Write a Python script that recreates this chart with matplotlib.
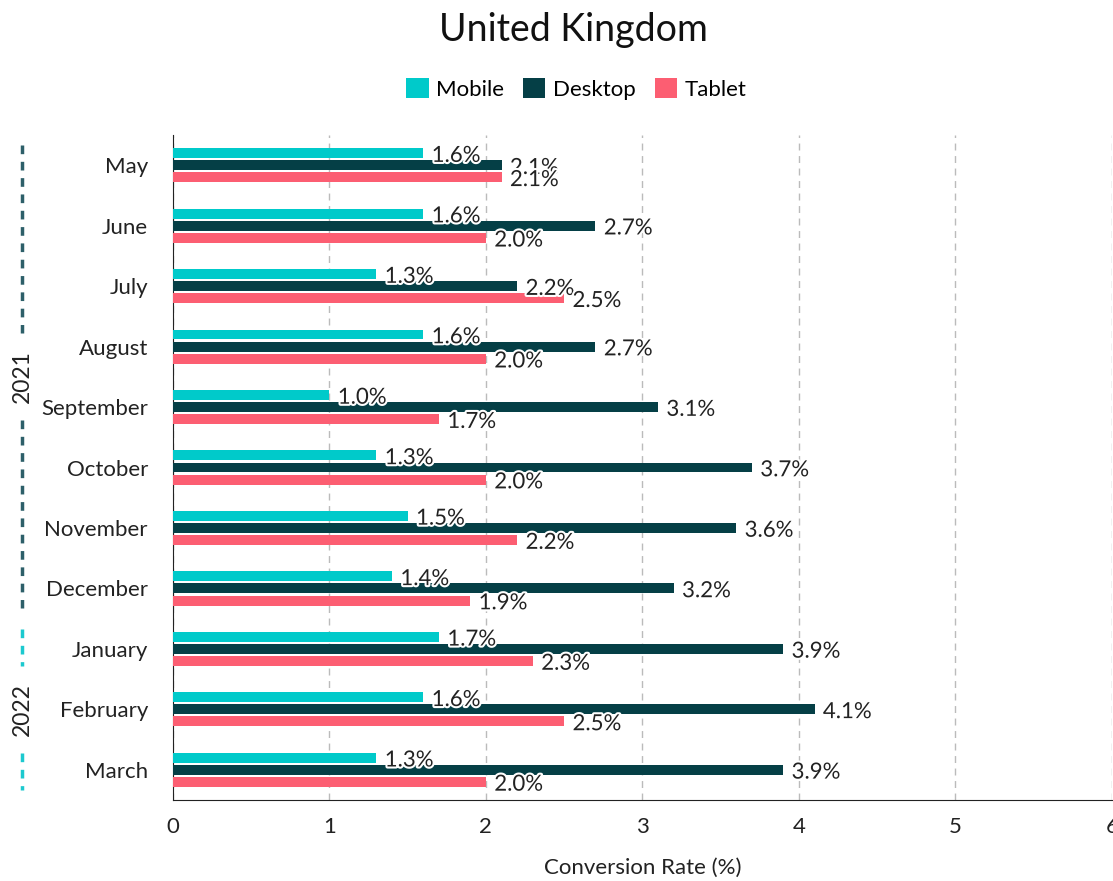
import numpy as np
import matplotlib.pyplot as plt
import matplotlib.patheffects as pe
import matplotlib.transforms as mtransforms

plt.rcParams['font.family'] = ['Lato', 'DejaVu Sans']

# Data
months = ['May', 'June', 'July', 'August', 'September', 'October',
          'November', 'December', 'January', 'February', 'March']
mobile = [1.6, 1.6, 1.3, 1.6, 1.0, 1.3, 1.5, 1.4, 1.7, 1.6, 1.3]
desktop = [2.1, 2.7, 2.2, 2.7, 3.1, 3.7, 3.6, 3.2, 3.9, 4.1, 3.9]
tablet = [2.1, 2.0, 2.5, 2.0, 1.7, 2.0, 2.2, 1.9, 2.3, 2.5, 2.0]
years = ['2021', '2022']
year_spans = [(0, 7), (8, 10)]

colors = {'Mobile': '#00CACA', 'Desktop': '#053F46', 'Tablet': '#FC5E72'}
year_colors = ['#2D5F69', '#1CC9CF']

fig = plt.figure(figsize=(11.13, 8.81), dpi=100)
ax = fig.add_axes([0.1554, 0.0919, 0.8436, 0.7549])

y = np.arange(len(months))
h = 0.165
step = 0.2
series = [('Mobile', mobile, -step), ('Desktop', desktop, 0), ('Tablet', tablet, step)]

for name, vals, off in series:
    ax.barh(y + off, vals, height=h, color=colors[name], label=name, zorder=3)
    for yy, v in zip(y + off, vals):
        t = ax.annotate(f'{v:.1f}%', xy=(v, yy), xytext=(6, -2), textcoords='offset points',
                        ha='left', va='center', fontsize=16, color='#222222', zorder=5)
        t.set_path_effects([pe.withStroke(linewidth=3, foreground='white')])

ax.set_xlim(0, 6)
ax.set_ylim(10.5, -0.5)
ax.set_yticks(y)
ax.set_yticklabels(months, fontsize=16, color='#222222')
ax.set_xticks(range(7))
ax.tick_params(axis='x', labelsize=16, length=0, pad=12, colors='#222222')
ax.tick_params(axis='y', length=0, pad=18)
ax.xaxis.grid(True, linestyle=(0, (5, 4)), color='#bbbbbb', linewidth=1, zorder=0)
ax.set_axisbelow(True)
for s in ['top', 'right']:
    ax.spines[s].set_visible(False)
ax.spines['left'].set_color('#222222')
ax.spines['bottom'].set_color('#222222')
ax.set_xlabel('Conversion Rate (%)', fontsize=16, color='#222222', labelpad=15)

# year brackets on the left
trans = mtransforms.blended_transform_factory(fig.transFigure, ax.transData)
for yr, (a, b), c in zip(years, year_spans, year_colors):
    y0, y1 = a - 0.33, b + 0.33
    mid = (y0 + y1) / 2
    gap = 0.72
    ax.plot([0.0198, 0.0198], [y0, mid - gap], transform=trans, color=c,
            linewidth=2.5, linestyle=(0, (2.5, 2.2)), clip_on=False)
    ax.plot([0.0198, 0.0198], [mid + gap, y1], transform=trans, color=c,
            linewidth=2.5, linestyle=(0, (2.5, 2.2)), clip_on=False)
    ax.text(0.0198, mid, yr, transform=trans, rotation=90, ha='center', va='center',
            fontsize=16.5, color='#222222')

fig.text(0.515, 0.966, 'United Kingdom', ha='center', va='center', fontsize=27, color='#111111')
fig.legend(loc='center', bbox_to_anchor=(0.518, 0.899), ncol=3, frameon=False,
           fontsize=16, handlelength=1.0, handleheight=1.0, handletextpad=0.35,
           columnspacing=0.85)

fig.savefig('out.png', dpi=100)
